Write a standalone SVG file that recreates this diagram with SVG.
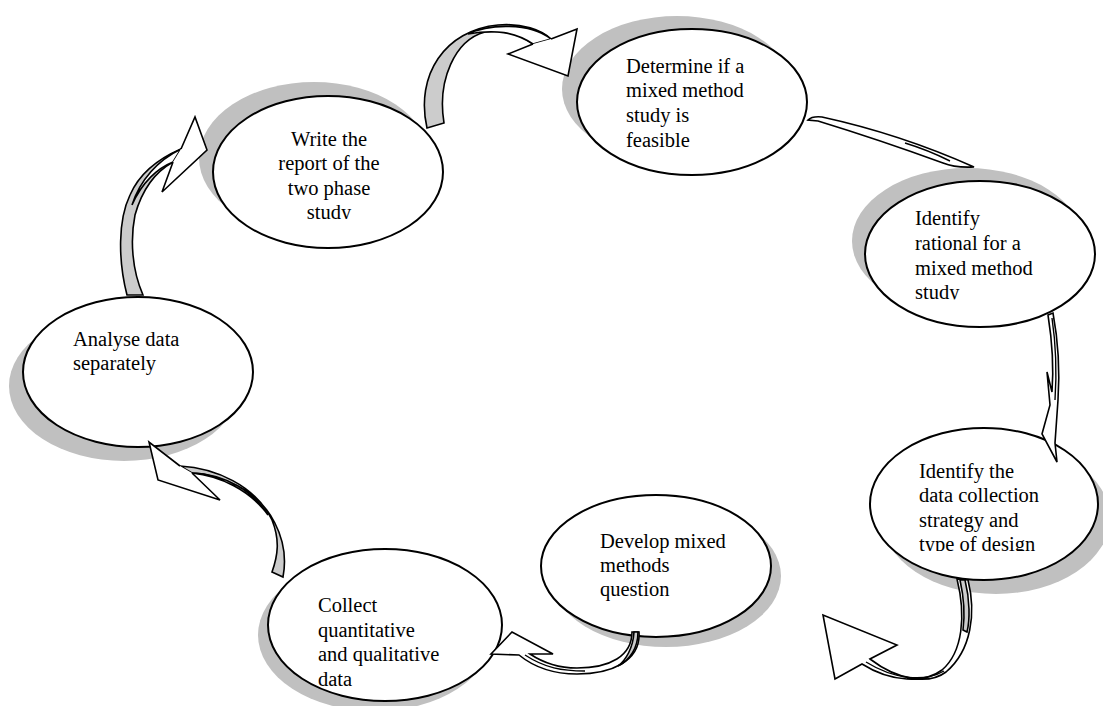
<svg xmlns="http://www.w3.org/2000/svg" width="1103" height="706" viewBox="0 0 1103 706">
<style>
.sh{fill:#c0c0c0;stroke:none}
.el{fill:#fff;stroke:#000;stroke-width:2}
.t{font-family:"Liberation Serif","Times New Roman",serif;font-size:20.5px;fill:#000}
.c{text-anchor:middle}
.aw{fill:#fff;stroke:#000;stroke-width:1.6;stroke-linejoin:miter}
.ag{fill:#cccccc;stroke:#000;stroke-width:1.6}
.ln{fill:none;stroke:#000;stroke-width:1.4}
</style>
<defs>
<clipPath id="c1"><rect x="200" y="80" width="260" height="139"/></clipPath>
<clipPath id="c3"><rect x="860" y="170" width="243" height="129.5"/></clipPath>
<clipPath id="c4"><rect x="860" y="420" width="243" height="131"/></clipPath>
</defs>
<rect width="1103" height="706" fill="#fff"/>
<g id="n1">
<ellipse class="sh" cx="314" cy="158" rx="115" ry="76"/>
<ellipse class="el" cx="328" cy="172" rx="115" ry="76"/>
<g clip-path="url(#c1)">
<text class="t c" x="329" y="146">Write the</text>
<text class="t c" x="329" y="170">report of the</text>
<text class="t c" x="329" y="195">two phase</text>
<text class="t c" x="329" y="219">study</text>
</g>
</g>
<g id="n2">
<ellipse class="sh" cx="677" cy="89" rx="115" ry="73"/>
<ellipse class="el" cx="692" cy="102" rx="115" ry="73"/>
<text class="t" x="626" y="73">Determine if a</text>
<text class="t" x="626" y="97">mixed method</text>
<text class="t" x="626" y="122">study is</text>
<text class="t" x="626" y="147">feasible</text>
</g>
<g id="n3">
<ellipse class="sh" cx="967" cy="241" rx="115" ry="73"/>
<ellipse class="el" cx="980" cy="254" rx="115" ry="73"/>
<g clip-path="url(#c3)">
<text class="t" x="915" y="225">Identify</text>
<text class="t" x="915" y="250">rational for a</text>
<text class="t" x="915" y="275">mixed method</text>
<text class="t" x="915" y="299">study</text>
</g>
</g>
<g id="n4">
<ellipse class="sh" cx="996" cy="518" rx="114" ry="76"/>
<ellipse class="el" cx="984" cy="504" rx="114" ry="76"/>
<g clip-path="url(#c4)">
<text class="t" x="919" y="478">Identify the</text>
<text class="t" x="919" y="502">data collection</text>
<text class="t" x="919" y="527">strategy and</text>
<text class="t" x="919" y="551">type of design</text>
</g>
</g>
<g id="n5">
<ellipse class="sh" cx="666" cy="576" rx="115" ry="71"/>
<ellipse class="el" cx="656" cy="566" rx="115" ry="71"/>
<text class="t" x="600" y="548">Develop mixed</text>
<text class="t" x="600" y="572">methods</text>
<text class="t" x="600" y="596">question</text>
</g>
<g id="n6">
<ellipse class="sh" cx="375" cy="635" rx="117" ry="76"/>
<ellipse class="el" cx="385" cy="625" rx="117" ry="76"/>
<text class="t" x="318" y="612">Collect</text>
<text class="t" x="318" y="637">quantitative</text>
<text class="t" x="318" y="661">and qualitative</text>
<text class="t" x="318" y="686">data</text>
</g>
<g id="n7">
<ellipse class="sh" cx="124" cy="386" rx="115" ry="75"/>
<ellipse class="el" cx="138" cy="372" rx="115" ry="75"/>
<text class="t" x="73" y="346">Analyse data</text>
<text class="t" x="73" y="370">separately</text>
</g>
<g id="connectors">
<!-- A: Write -> Determine -->
<path class="ag" d="M 427,128 C 415,75 445,30 498,25 C 523,23 541,30 551,39 L 533,44 C 518,33 500,30 485,32 C 455,40 437,80 444,123 Z"/>
<path class="aw" d="M 468,34 C 488,24 530,22 551,39 L 533,44 C 515,32 495,29 468,34 Z"/>
<path class="aw" d="M 551,39 L 577,29 L 568,76 L 508,54 L 533,44"/>
<!-- B: Determine -> Identify rational -->
<path class="aw" d="M 808,120 Q 812,116 822,117 Q 900,134 974,167 Q 955,168 943,163 Q 880,140 818,121 Z"/>
<path class="ln" d="M 905,143 Q 928,150 950,161"/>
<!-- C: Identify rational -> Identify data -->
<path class="aw" d="M 1048,315 L 1053,313 C 1058,340 1060,370 1058,400 L 1055,443 L 1057,462 L 1042,434 L 1050,405 L 1047,372 L 1052,392 C 1054,365 1052,340 1048,315 Z"/>
<path class="ln" d="M 1052,318 C 1056,345 1057,370 1055,400"/>
<!-- D: Identify data -> Develop -->
<path class="aw" d="M 957,579 L 968,580 C 976,612 972,650 946,672 C 930,684 900,682 870,659 L 897,645 L 823,615 L 835,679 L 862,664 C 892,683 925,683 942,670 C 963,652 966,615 957,579 Z"/>
<path class="ag" d="M 960,580 L 965,580 C 970,600 970,620 967,632 L 963,630 C 965,615 964,598 960,580 Z"/>
<path class="ln" d="M 866,662 C 895,680 925,682 944,671"/>
<!-- E: Develop -> Collect -->
<path class="aw" d="M 632,632 L 639,632 C 641,662 610,674 577,674 C 555,674 535,668 519,655 L 491,654 L 512,632 L 553,654 L 530,654 C 545,664 560,668 577,668 C 610,668 632,656 632,632 Z"/>
<path class="ag" d="M 634,632 L 638,632 C 638,648 630,660 618,666 C 626,660 633,648 634,632 Z"/>
<path class="ln" d="M 525,655 C 545,668 562,671 585,671"/>
<!-- F: Collect -> Analyse -->
<path class="ag" d="M 272,572 L 283,577 C 290,540 270,500 235,485 C 220,478 205,473 192,473 L 180,466 C 215,468 255,485 272,520 C 280,540 278,555 272,572 Z"/>
<path class="aw" d="M 192,473 C 225,474 255,492 268,515 C 250,490 220,476 192,473 Z"/>
<path class="aw" d="M 192,473 L 220,500 L 158,480 L 149,442 L 180,466"/>
<!-- G: Analyse -> Write -->
<path class="ag" d="M 127,295 C 118,260 118,220 130,195 C 140,172 160,158 181,149 L 173,162 C 155,172 142,190 135,215 C 130,240 132,270 143,295 Z"/>
<path class="aw" d="M 181,149 C 158,160 140,180 132,205 C 142,182 158,168 173,162 Z"/>
<path class="aw" d="M 181,149 L 195,117 L 207,150 L 162,192 L 173,162"/>
</g>
</svg>
